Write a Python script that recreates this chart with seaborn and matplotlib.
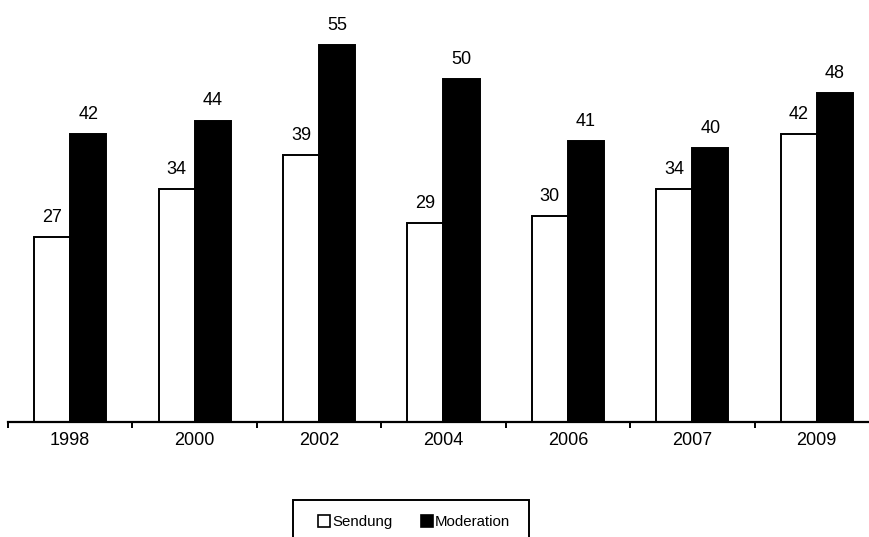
import pandas as pd
import matplotlib
matplotlib.use("Agg")
import matplotlib.pyplot as plt
import seaborn as sns
from matplotlib.patches import Patch, Rectangle

years = ["1998", "2000", "2002", "2004", "2006", "2007", "2009"]
sendung = [27, 34, 39, 29, 30, 34, 42]
moderation = [42, 44, 55, 50, 41, 40, 48]
series = ["Sendung", "Moderation"]

df = pd.DataFrame({
    "year": years * 2,
    "series": ["Sendung"] * len(years) + ["Moderation"] * len(years),
    "value": sendung + moderation,
})

sns.set_style("white")
plt.rcParams["font.family"] = ["Liberation Sans", "DejaVu Sans"]
plt.rcParams["text.color"] = "black"
plt.rcParams["xtick.color"] = "black"

W, H = 869, 537
fig = plt.figure(figsize=(W / 100, H / 100), dpi=100)
ax = fig.add_axes([8 / W, 115 / H, 871 / W, 422 / H])

sns.barplot(data=df, x="year", y="value", hue="series", order=years,
            hue_order=series, palette={"Sendung": "white", "Moderation": "black"},
            edgecolor="black", linewidth=1.4, width=0.58, gap=0,
            legend=False, ax=ax)

for cont in ax.containers:
    ax.bar_label(cont, fmt="%d", padding=8, fontsize=13, color="black")

ax.set_ylim(0, 61.6)
ax.set_xlim(-0.5, len(years) - 0.5)
ax.set_xlabel("")
ax.set_ylabel("")
ax.set_yticks([])
for s in ["top", "left", "right"]:
    ax.spines[s].set_visible(False)
ax.spines["bottom"].set_linewidth(1.6)
ax.spines["bottom"].set_color("black")

# group separators as major ticks, year labels on minor ticks
ax.set_xticks([i - 0.5 for i in range(len(years) + 1)])
ax.set_xticklabels([])
ax.set_xticks(range(len(years)), minor=True)
ax.set_xticklabels(years, minor=True, fontsize=13)
ax.tick_params(axis="x", which="major", direction="out", length=4.5, width=1.4,
               color="black", bottom=True)
ax.tick_params(axis="x", which="minor", length=0, pad=7, labelcolor="black")

# legend box (bottom edge runs off the figure)
fig.patches.append(Rectangle((293 / W, -0.05), 236 / W, 0.05 + 37 / H,
                             transform=fig.transFigure, fill=False,
                             edgecolor="black", linewidth=1.4))
handles = [Patch(facecolor="white", edgecolor="black", linewidth=1.2, label="Sendung"),
           Patch(facecolor="black", edgecolor="black", linewidth=1.2, label="Moderation")]
fig.legend(handles=handles, loc="center", bbox_to_anchor=(414 / W, 1 - 522 / H),
           ncol=2, frameon=False, fontsize=10.8,
           handlelength=0.8, handleheight=0.8, handletextpad=0.15,
           columnspacing=1.9, borderpad=0, borderaxespad=0)

fig.savefig("out.png", dpi=100)
